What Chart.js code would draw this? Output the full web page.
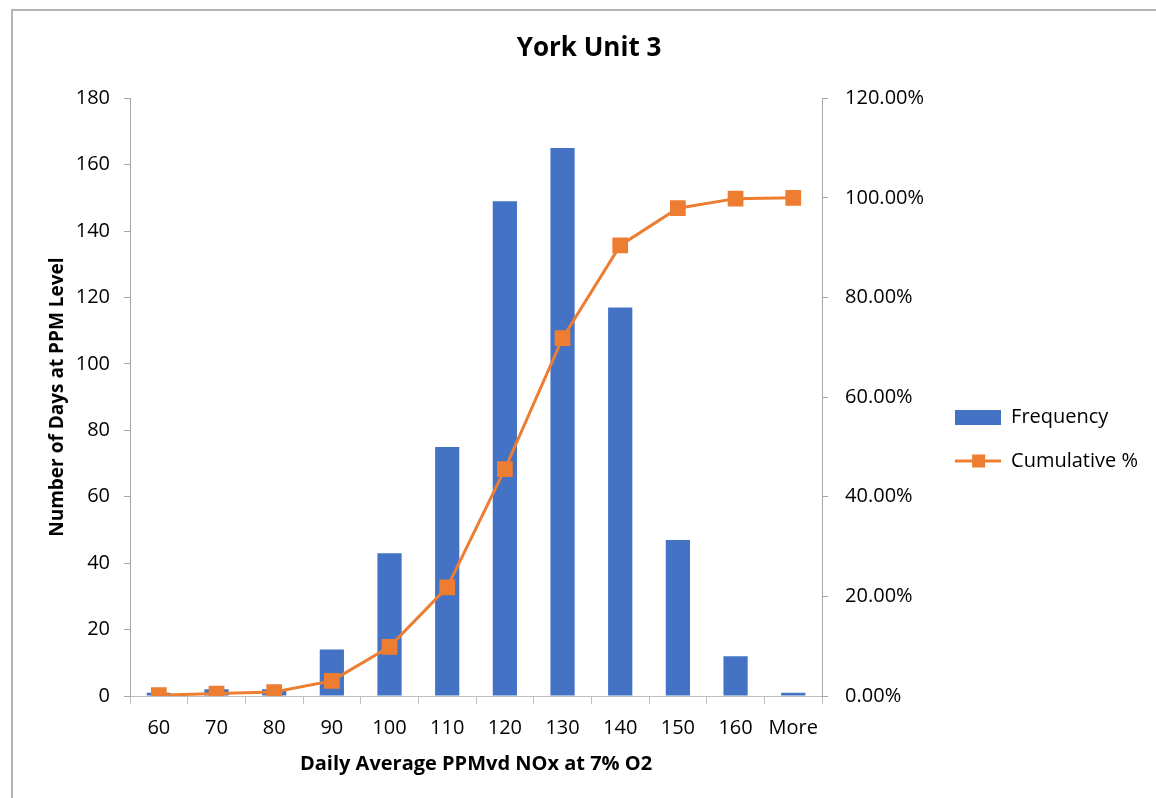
<!DOCTYPE html>
<html>
<head>
<meta charset="utf-8">
<script src="https://cdn.jsdelivr.net/npm/chart.js@4.4.1/dist/chart.umd.min.js"></script>
<style>
  html, body { margin: 0; padding: 0; background: #fff; }
  #wrap { position: relative; width: 1156px; height: 798px; overflow: hidden; }
  #frame { position: absolute; left: 11px; top: 9px; width: 1300px; height: 900px;
           border-top: 2px solid #b4b4b4; border-left: 2px solid #b4b4b4; }
  #chart { position: absolute; left: 0; top: 0; }
</style>
</head>
<body>
<div id="wrap">
  <div id="frame"></div>
  <canvas id="chart" width="1156" height="798"></canvas>
</div>
<script>
// categorias do histograma (PPM)
const categorias = ['60', '70', '80', '90', '100', '110', '120', '130', '140', '150', '160', 'More'];
// número de dias em cada faixa
const frequencia = [1, 2, 2, 14, 43, 75, 149, 165, 117, 47, 12, 1];
// percentual acumulado (%)
const acumulado = [0.16, 0.48, 0.80, 3.03, 9.87, 21.82, 45.54, 71.82, 90.45, 97.93, 99.84, 100];

const AZUL = '#4472C4';
const LARANJA = '#ED7D31';
const FONTE = '"Open Sans", Lato, sans-serif';

// amostras da legenda desenhadas à mão (retângulo e linha com marcador)
function amostraBarra() {
    const c = document.createElement('canvas');
    c.width = 46; c.height = 15;
    const g = c.getContext('2d');
    g.fillStyle = AZUL;
    g.fillRect(0, 0, 46, 15);
    return c;
}
function amostraLinha() {
    const c = document.createElement('canvas');
    c.width = 46; c.height = 15;
    const g = c.getContext('2d');
    g.strokeStyle = LARANJA;
    g.lineWidth = 3;
    g.beginPath(); g.moveTo(0, 7.5); g.lineTo(46, 7.5); g.stroke();
    g.fillStyle = LARANJA;
    g.fillRect(17, 1, 13, 13);
    return c;
}

const ctx = document.getElementById('chart').getContext('2d');
new Chart(ctx, {
    data: {
        labels: categorias,
        datasets: [
            {
                type: 'line',
                label: 'Cumulative %',
                data: acumulado,
                yAxisID: 'y1',
                borderColor: LARANJA,
                backgroundColor: LARANJA,
                borderWidth: 3,
                pointStyle: 'rect',
                pointRadius: 9,
                pointHoverRadius: 9,
                tension: 0,
                order: 0
            },
            {
                type: 'bar',
                label: 'Frequency',
                data: frequencia,
                yAxisID: 'y',
                backgroundColor: AZUL,
                barPercentage: 0.42,
                categoryPercentage: 1,
                order: 1
            }
        ]
    },
    options: {
        responsive: false,
        animation: false,
        layout: { padding: { left: 30, right: 8, top: 10, bottom: 22 } },
        plugins: {
            title: {
                display: true,
                text: 'York Unit 3',
                color: '#000',
                font: { family: FONTE, size: 26, weight: 'bold' },
                padding: { top: 23, bottom: 34 }
            },
            legend: {
                position: 'right',
                reverse: true,
                maxWidth: 300,
                // título vazio só para empurrar os itens para baixo
                title: { display: true, text: ' ', font: { size: 10 }, padding: { top: 80, bottom: 0 } },
                labels: {
                    color: '#000',
                    font: { family: FONTE, size: 20 },
                    usePointStyle: true,
                    pointStyleWidth: 46,
                    padding: 24,
                    generateLabels: (chart) => chart.data.datasets.map((ds, i) => ({
                        text: ds.label,
                        fontColor: '#000',
                        pointStyle: ds.type === 'bar' ? amostraBarra() : amostraLinha(),
                        fillStyle: ds.backgroundColor,
                        strokeStyle: ds.backgroundColor,
                        lineWidth: 0,
                        hidden: false,
                        datasetIndex: i
                    }))
                }
            },
            tooltip: { enabled: false }
        },
        scales: {
            x: {
                grid: { drawOnChartArea: false, color: '#bfbfbf', tickLength: 8, offset: true },
                border: { color: '#bfbfbf' },
                ticks: { color: '#000', font: { family: FONTE, size: 20 }, padding: 12 },
                title: {
                    display: true,
                    text: 'Daily Average PPMvd NOx at 7% O2',
                    color: '#000',
                    font: { family: FONTE, size: 20, weight: 'bold' },
                    padding: { top: 0, bottom: 0 }
                }
            },
            y: {
                position: 'left',
                min: 0,
                max: 180,
                afterFit: (s) => { s.width = 100; },
                ticks: { stepSize: 20, color: '#000', font: { family: FONTE, size: 20 }, padding: 14 },
                grid: { drawOnChartArea: false, color: '#a6a6a6', tickLength: 6 },
                border: { color: '#a6a6a6' },
                title: {
                    display: true,
                    text: 'Number of Days at PPM Level',
                    color: '#000',
                    font: { family: FONTE, size: 19, weight: 'bold' },
                    padding: { top: 16, bottom: 0 }
                }
            },
            y1: {
                position: 'right',
                min: 0,
                max: 120,
                afterFit: (s) => { s.width = 109; },
                ticks: {
                    stepSize: 20,
                    color: '#000',
                    font: { family: FONTE, size: 20 },
                    padding: 17,
                    callback: (v) => v.toFixed(2) + '%'
                },
                grid: { drawOnChartArea: false, color: '#a6a6a6', tickLength: 6 },
                border: { color: '#a6a6a6' }
            }
        }
    }
});
</script>
</body>
</html>
